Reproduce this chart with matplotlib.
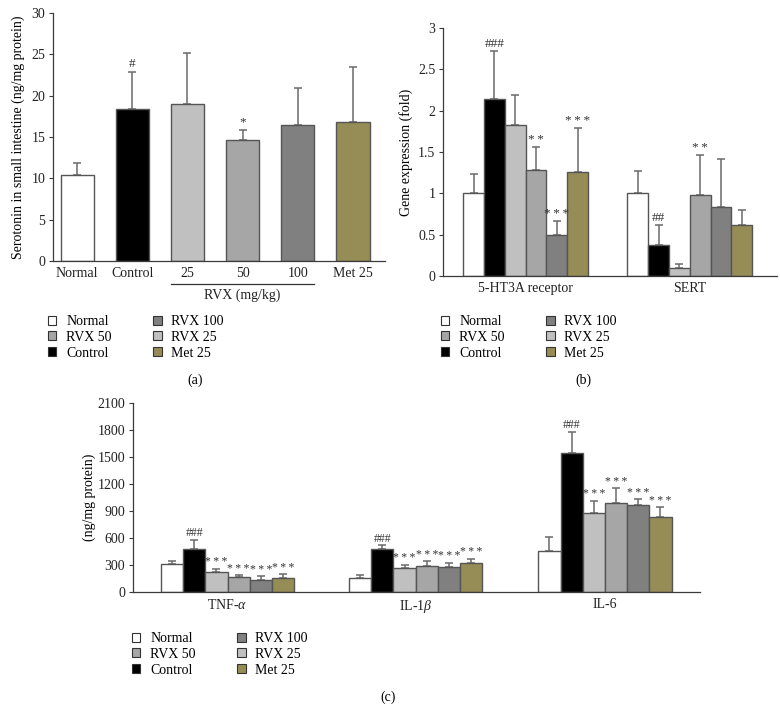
import matplotlib
matplotlib.use("Agg")
import matplotlib.pyplot as plt
import matplotlib.transforms as mtransforms
from matplotlib.patches import Patch
import numpy as np

plt.rcParams['font.family'] = ['Liberation Serif', 'DejaVu Serif']
plt.rcParams['mathtext.fontset'] = 'custom'
plt.rcParams['mathtext.it'] = 'Liberation Serif:italic'
plt.rcParams['mathtext.rm'] = 'Liberation Serif'

# ---------------- data ----------------
groups = ["Normal", "Control", "RVX 25", "RVX 50", "RVX 100", "Met 25"]
colors = ["#ffffff", "#000000", "#c0c0c0", "#a6a6a6", "#808080", "#968c55"]

# (a) serotonin
a_labels = ["Normal", "Control", "25", "50", "100", "Met 25"]
a_vals = [10.45, 18.4, 19.05, 14.6, 16.4, 16.8]
a_errs = [1.35, 4.45, 6.15, 1.3, 4.5, 6.7]
a_marks = ["", "#", "", "*", "", ""]

# (b) gene expression
b_genes = ["5-HT3A receptor", "SERT"]
b_vals = {
    "5-HT3A receptor": [1.0, 2.14, 1.83, 1.28, 0.50, 1.26],
    "SERT": [1.0, 0.38, 0.10, 0.98, 0.84, 0.62],
}
b_errs = {
    "5-HT3A receptor": [0.23, 0.58, 0.36, 0.28, 0.16, 0.53],
    "SERT": [0.27, 0.24, 0.05, 0.48, 0.57, 0.18],
}
b_marks = {
    "5-HT3A receptor": ["", "###", "", "**", "***", "***"],
    "SERT": ["", "##", "", "**", "", ""],
}

# (c) cytokines
c_cyt = ["TNF-$\\alpha$", "IL-1$\\beta$", "IL-6"]
c_vals = [
    [315, 481, 218, 163, 137, 156],
    [152, 474, 270, 289, 281, 322],
    [456, 1541, 878, 993, 967, 833],
]
c_errs = [
    [33, 100, 41, 26, 37, 44],
    [33, 45, 34, 52, 45, 48],
    [159, 240, 137, 163, 66, 111],
]
c_marks = [
    ["", "###", "***", "***", "***", "***"],
    ["", "###", "***", "***", "***", "***"],
    ["", "###", "***", "***", "***", "***"],
]

legend_order = [0, 3, 1, 4, 2, 5]  # Normal, RVX 50, Control, RVX 100, RVX 25, Met 25

fig = plt.figure(figsize=(7.8, 7.22), dpi=100)

spine_c = "#3a3a3a"
err_c = "#6a6a6a"
edge_c = "#555555"
tick_fs = 10
xtick_fs = 10
lab_fs = 10
leg_fs = 10
mark_fs = 9.5


def style_ax(ax):
    for s in ["top", "right"]:
        ax.spines[s].set_visible(False)
    for s in ["left", "bottom"]:
        ax.spines[s].set_color(spine_c)
        ax.spines[s].set_linewidth(0.9)
    ax.tick_params(axis="y", direction="out", length=3, width=0.8,
                   colors=spine_c, labelsize=tick_fs, labelcolor="#222222", pad=2.5)
    ax.tick_params(axis="x", length=0, labelsize=xtick_fs,
                   labelcolor="#222222", pad=4)


def fmt_mark(m):
    if m.startswith("*"):
        return "\u2009".join(m)
    return m


def add_legend(x, y):
    handles = [Patch(facecolor=colors[i], edgecolor="#333333", linewidth=0.8,
                     label=groups[i]) for i in legend_order]
    fig.legend(handles=handles, loc="upper left", bbox_to_anchor=(x, y),
               ncol=2, frameon=False, fontsize=leg_fs, handlelength=0.6,
               handleheight=0.6, handletextpad=0.7, labelspacing=0.2,
               columnspacing=3.0, borderaxespad=0, borderpad=0)


# ---------------- (a) ----------------
axa = fig.add_axes([53 / 780, 1 - 261 / 722, (385 - 53) / 780, (261 - 13) / 722])
xa = np.arange(len(a_vals))
axa.bar(xa, a_vals, width=0.6, color=colors, edgecolor=edge_c, linewidth=1.0, zorder=2)
axa.errorbar(xa, a_vals, yerr=[np.zeros(len(a_vals)), a_errs], fmt="none",
             ecolor=err_c, elinewidth=1.1, capsize=3, capthick=1.1, zorder=1)
for i, m in enumerate(a_marks):
    if m:
        axa.text(xa[i], a_vals[i] + a_errs[i] + 0.2, fmt_mark(m), ha="center",
                 va="bottom", fontsize=mark_fs, color="#333333")
axa.set_xlim(-0.436, 5.58)
axa.set_ylim(0, 30)
axa.set_yticks(np.arange(0, 31, 5))
axa.set_xticks(xa)
axa.set_xticklabels(a_labels)
axa.set_ylabel("Serotonin in small intestine (ng/mg protein)", fontsize=lab_fs, labelpad=5)
style_ax(axa)
trans = mtransforms.blended_transform_factory(axa.transData, axa.transAxes)
axa.plot([1.7, 4.3], [-0.093, -0.093], transform=trans, color="#333333",
         linewidth=0.9, clip_on=False)
axa.text(3.0, -0.11, "RVX (mg/kg)", transform=trans, ha="center", va="top",
         fontsize=xtick_fs, color="#222222")
add_legend(48 / 780, 1 - 315 / 722)
fig.text(195 / 780, 1 - 380 / 722, "(a)", ha="center", va="center", fontsize=lab_fs)

# ---------------- (b) ----------------
axb = fig.add_axes([443 / 780, 1 - 276 / 722, (777 - 443) / 780, (276 - 28) / 722])
b_centers = [0, 7.9]
offs = np.arange(6) - 2.5
for g, gene in enumerate(b_genes):
    xs = b_centers[g] + offs
    axb.bar(xs, b_vals[gene], width=1.0, color=colors, edgecolor=edge_c,
            linewidth=1.0, zorder=2)
    axb.errorbar(xs, b_vals[gene], yerr=[np.zeros(6), b_errs[gene]], fmt="none",
                 ecolor=err_c, elinewidth=1.1, capsize=3, capthick=1.1, zorder=1)
    for i, m in enumerate(b_marks[gene]):
        if m:
            axb.text(xs[i], b_vals[gene][i] + b_errs[gene][i] + 0.015, fmt_mark(m),
                     ha="center", va="bottom", fontsize=mark_fs, color="#333333", zorder=3)
axb.set_xlim(-3.97, 12.09)
axb.set_ylim(0, 3)
axb.set_yticks([0, 0.5, 1, 1.5, 2, 2.5, 3])
axb.set_yticklabels(["0", "0.5", "1", "1.5", "2", "2.5", "3"])
axb.set_xticks(b_centers)
axb.set_xticklabels(b_genes)
axb.set_ylabel("Gene expression (fold)", fontsize=lab_fs, labelpad=4)
style_ax(axb)
add_legend(441 / 780, 1 - 315 / 722)
fig.text(583 / 780, 1 - 380 / 722, "(b)", ha="center", va="center", fontsize=lab_fs)

# ---------------- (c) ----------------
axc = fig.add_axes([133 / 780, 1 - 592 / 722, (700 - 133) / 780, (592 - 403) / 722])
c_centers = [0, 8.47, 17.0]
for g in range(len(c_cyt)):
    xs = c_centers[g] + offs
    axc.bar(xs, c_vals[g], width=1.0, color=colors, edgecolor=edge_c,
            linewidth=1.0, zorder=2)
    axc.errorbar(xs, c_vals[g], yerr=[np.zeros(6), c_errs[g]], fmt="none",
                 ecolor=err_c, elinewidth=1.1, capsize=3, capthick=1.1, zorder=1)
    for i, m in enumerate(c_marks[g]):
        if m:
            axc.text(xs[i], c_vals[g][i] + c_errs[g][i] + 5, fmt_mark(m),
                     ha="center", va="bottom", fontsize=8.5, color="#333333", zorder=3)
axc.set_xlim(-4.26, 21.28)
axc.set_ylim(0, 2100)
axc.set_yticks(np.arange(0, 2101, 300))
axc.set_xticks(c_centers)
axc.set_xticklabels(c_cyt)
axc.set_ylabel("(ng/mg protein)", fontsize=lab_fs, labelpad=1)
style_ax(axc)
add_legend(132 / 780, 1 - 632 / 722)
fig.text(388 / 780, 1 - 697 / 722, "(c)", ha="center", va="center", fontsize=lab_fs)

fig.savefig("out.png", dpi=100, facecolor="white")
